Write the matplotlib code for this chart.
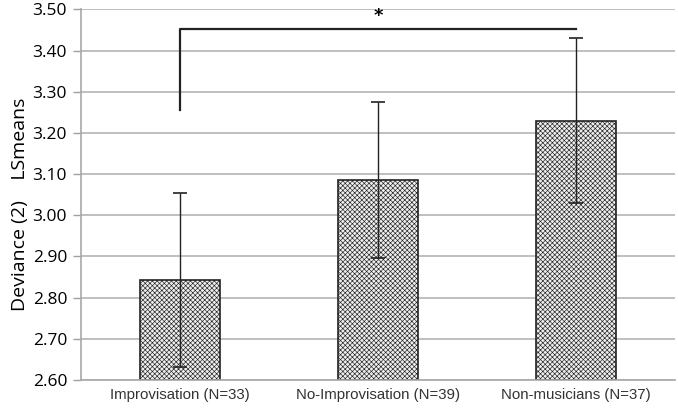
import matplotlib
matplotlib.use("Agg")
import matplotlib.pyplot as plt
import numpy as np

categories = ["Improvisation (N=33)", "No-Improvisation (N=39)", "Non-musicians (N=37)"]
means = [2.843, 3.086, 3.230]
errors = [0.211, 0.190, 0.200]
yticks = [2.60, 2.70, 2.80, 2.90, 3.00, 3.10, 3.20, 3.30, 3.40, 3.50]

plt.rcParams['hatch.color'] = '#c8c8c8'
plt.rcParams['hatch.linewidth'] = 0.45

fig = plt.figure(figsize=(6.78, 4.09), dpi=100)
ax = fig.add_axes([0.1195, 0.071, 0.876, 0.906])
x = np.arange(len(categories))
ax.bar(x, [m - 2.60 for m in means], bottom=2.60, width=0.4, color='#eeeeee',
       edgecolor='#222222', linewidth=1.2, hatch='xxxxxxx', zorder=2)
ax.errorbar(x, means, yerr=errors, fmt='none', ecolor='#222222', elinewidth=1.0,
            capsize=5, capthick=1.2, zorder=3)

# significance bracket
ax.plot([0, 0, 2], [3.255, 3.452, 3.452], color='#222222', lw=1.6, zorder=3)
ax.text(1, 3.462, '*', ha='center', va='bottom', fontsize=13, fontweight='bold')

ax.set_xlim(-0.5, 2.5)
ax.set_ylim(2.60, 3.50)
ax.set_yticks(yticks)
ax.set_yticklabels([f"{v:.2f}" for v in yticks], fontsize=12.5, family='Open Sans')
ax.set_xticks(x)
ax.set_xticklabels(categories, fontsize=10.8, family='Liberation Sans', color='#333333')
ax.tick_params(axis='x', length=0, pad=6)
ax.tick_params(axis='y', length=6, color='#a0a0a0', width=1, pad=4)
ax.yaxis.grid(True, color='#b4b4b4', linewidth=1.2, zorder=0)
ax.set_axisbelow(True)
for s in ['top', 'right']:
    ax.spines[s].set_visible(False)
for s in ['left', 'bottom']:
    ax.spines[s].set_color('#a8a8a8')
    ax.spines[s].set_linewidth(1.2)
fig.text(0.03, 0.50, 'Deviance (2)    LSmeans', rotation=90, ha='center', va='center',
         fontsize=14, family='Open Sans')
fig.savefig('out.png', dpi=100)
